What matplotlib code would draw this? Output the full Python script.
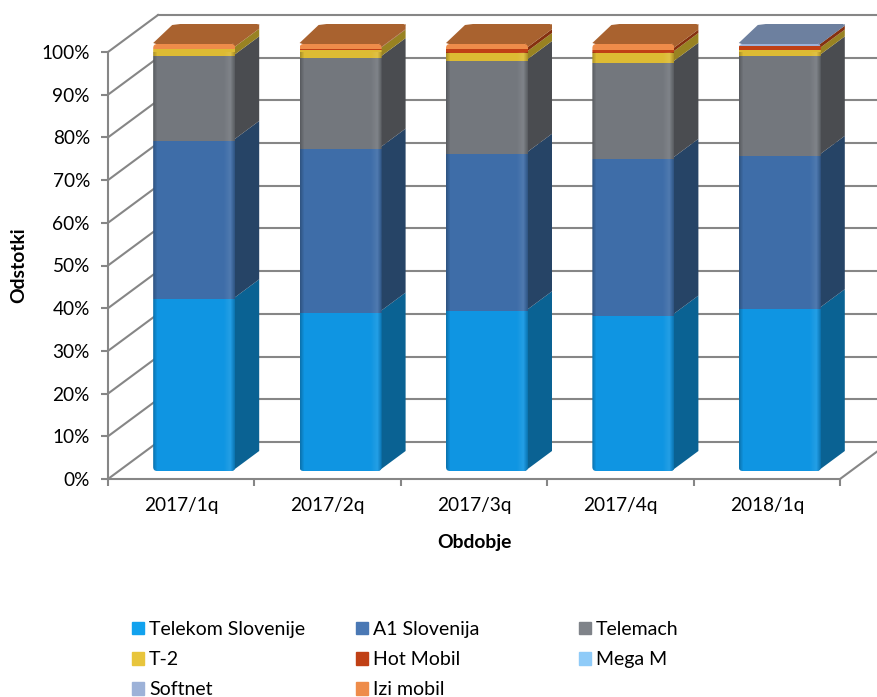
import numpy as np
import matplotlib
matplotlib.use("Agg")
import matplotlib.pyplot as plt
from matplotlib.patches import FancyBboxPatch

periods = ["2017/1q", "2017/2q", "2017/3q", "2017/4q", "2018/1q"]
telekom = [40.2, 37.1, 37.4, 36.4, 37.9]
a1 = [37.1, 38.4, 36.9, 36.7, 35.9]
telemach = [19.8, 21.2, 21.7, 22.5, 23.3]
t2 = [1.8, 2.0, 1.9, 2.3, 1.6]
hot = [0.0, 0.1, 0.9, 0.8, 0.9]
mega = [0.0, 0.0, 0.0, 0.0, 0.0]
softnet = [0.0, 0.0, 0.0, 0.0, 0.4]
izi = [1.1, 1.2, 1.2, 1.3, 0.0]
series_names = ["Telekom Slovenije", "A1 Slovenija", "Telemach", "T-2",
                "Hot Mobil", "Mega M", "Softnet", "Izi mobil"]
series_values = [telekom, a1, telemach, t2, hot, mega, softnet, izi]
front_colors = ["#0F95E2", "#3E6DA8", "#73777D", "#DDBB33",
                "#C04015", "#8FCBF8", "#9DB2D8", "#EE8C4A"]
side_colors = ["#0A6293", "#264466", "#4A4C50", "#988222",
               "#85300F", "#5F8DB0", "#6C7C98", "#A8622F"]
top_colors = ["#0A6293", "#264466", "#4A4C50", "#988222",
              "#85300F", "#5F8DB0", "#6D809F", "#A9622F"]
legend_colors = ["#12A2EE", "#4A78B4", "#7F8389", "#E8C53C",
                 "#C04015", "#8FCBF8", "#9DB2D8", "#EE8C4A"]

W, H = 878, 697
plt.rcParams["font.family"] = ["Lato", "DejaVu Sans"]
fig = plt.figure(figsize=(W / 100, H / 100), dpi=100)
L, R, B, T = 108, 840, 479, 52
ax = fig.add_axes([L / W, 1 - B / H, (R - L) / W, (B - T) / H])
ax.set_xlim(-0.5, 4.5)
ax.set_ylim(0, 100)
ax.patch.set_alpha(0)
px = 5 / (R - L)
py = 100 / (B - T)
GRID = "#868686"
LW = 1.5
FS = 13.7

# walls
wall_dx, wall_dy = 50 * px, 37 * py
for v in range(0, 101, 10):
    ax.plot([-0.5, -0.5 + wall_dx], [v, v + wall_dy], color=GRID, lw=LW, clip_on=False, zorder=1)
    ax.plot([-0.5 + wall_dx, 4.5 + wall_dx], [v + wall_dy, v + wall_dy], color=GRID, lw=LW,
            clip_on=False, zorder=1)
ax.plot([4.5, 4.5 + wall_dx], [0, wall_dy], color=GRID, lw=LW, clip_on=False, zorder=1)

for s in ["top", "right"]:
    ax.spines[s].set_visible(False)
for s in ["left", "bottom"]:
    ax.spines[s].set_color(GRID)
    ax.spines[s].set_linewidth(LW)
ax.set_yticks(range(0, 101, 10))
ax.set_yticklabels([f"{v}%" for v in range(0, 101, 10)], fontsize=FS, color="black")
ax.set_xticks(np.arange(-0.5, 5, 1))
ax.set_xticklabels([])
ax.set_xticks(range(5), labels=periods, minor=True, fontsize=FS)
ax.tick_params(axis="x", which="minor", length=0, pad=13)
ax.tick_params(axis="x", which="major", length=5, width=LW, color=GRID)
ax.tick_params(axis="y", length=5, width=LW, color=GRID, pad=8)
ax.set_xlabel("Obdobje", fontsize=13.9, fontweight="bold", labelpad=14.5)
ax.set_ylabel("Odstotki", fontsize=13.9, fontweight="bold", labelpad=10)

# bars
front_dx, front_dy = 13 * px, 8 * py
depth_dx, depth_dy = 24 * px, 20 * py
bar_w = 82 * px
xs = np.arange(5) + front_dx
bottom = np.zeros(5)
handles = []


def rounded(x):
    return FancyBboxPatch((x - bar_w / 2, front_dy), bar_w, 100,
                          boxstyle=f"round,pad=0,rounding_size={4 * px}",
                          mutation_aspect=py / px, transform=ax.transData)


for name, vals, fc, sc, lc in zip(series_names, series_values, front_colors, side_colors, legend_colors):
    vals = np.array(vals, float)
    bars = ax.bar(xs, vals, bar_w, bottom=bottom + front_dy, color=fc, zorder=3)
    for bar, x in zip(bars, xs):
        bar.set_clip_path(rounded(x))
        bar.set_clip_box(None)
    for x, b, v in zip(xs, bottom, vals):
        if v > 0:
            xr = x + bar_w / 2
            y0 = b + front_dy
            ax.fill([xr - 3 * px, xr + depth_dx, xr + depth_dx, xr - 3 * px],
                    [y0, y0 + depth_dy, y0 + v + depth_dy, y0 + v],
                    color=sc, lw=0, zorder=2.5, clip_on=False)
    bottom = bottom + vals
    handles.append(plt.Rectangle((0, 0), 1, 1, color=lc, label=name))

# top face
last_top = [7, 7, 7, 7, 6]
for x, b, si in zip(xs, bottom, last_top):
    xl, xr = x - bar_w / 2, x + bar_w / 2
    y0 = b + front_dy
    xp = [xl, xl + depth_dx - 5 * px, xl + depth_dx + 3 * px, xr + depth_dx - 2 * px,
          xr + depth_dx, xr, xr - 3 * px, xl + 3 * px]
    yp = [y0 + 1 * py, y0 + depth_dy - 1 * py, y0 + depth_dy, y0 + depth_dy,
          y0 + depth_dy - 1 * py, y0 + 1 * py, y0, y0]
    ax.fill(xp, yp, color=top_colors[si], lw=0, zorder=3.5, clip_on=False)

# bevel shading on front faces
n = 82
dark = np.zeros((1, n, 4))
dark[0, :5, 3] = np.linspace(0.22, 0, 5)
dark[0, -5:, 3] = np.linspace(0, 0.2, 5)
light = np.ones((1, n, 4))
light[0, :, 3] = 0
light[0, -12:-5, 3] = np.linspace(0, 0.08, 7)
light[0, -5:, 3] = np.linspace(0.08, 0, 5)
for x in xs:
    ext = [x - bar_w / 2, x + bar_w / 2, front_dy, 100 + front_dy]
    for img in (dark, light):
        im = ax.imshow(img, extent=ext, aspect="auto", zorder=3.2, interpolation="bilinear")
        im.set_clip_path(rounded(x))
        im.set_clip_box(None)
ax.set_xlim(-0.5, 4.5)
ax.set_ylim(0, 100)

# legend, three columns
cols = [[0, 3, 6], [1, 4, 7], [2, 5]]
col_x = [126, 350, 573]
for idx, cx in zip(cols, col_x):
    leg = fig.legend(handles=[handles[i] for i in idx], loc="upper left",
                     bbox_to_anchor=(cx / W, 1 - 615 / H), frameon=False, fontsize=14,
                     handlelength=0.64, handleheight=0.64, handletextpad=0.25,
                     labelspacing=0.68, borderpad=0.3, borderaxespad=0)
fig.savefig("out.png", dpi=100)
